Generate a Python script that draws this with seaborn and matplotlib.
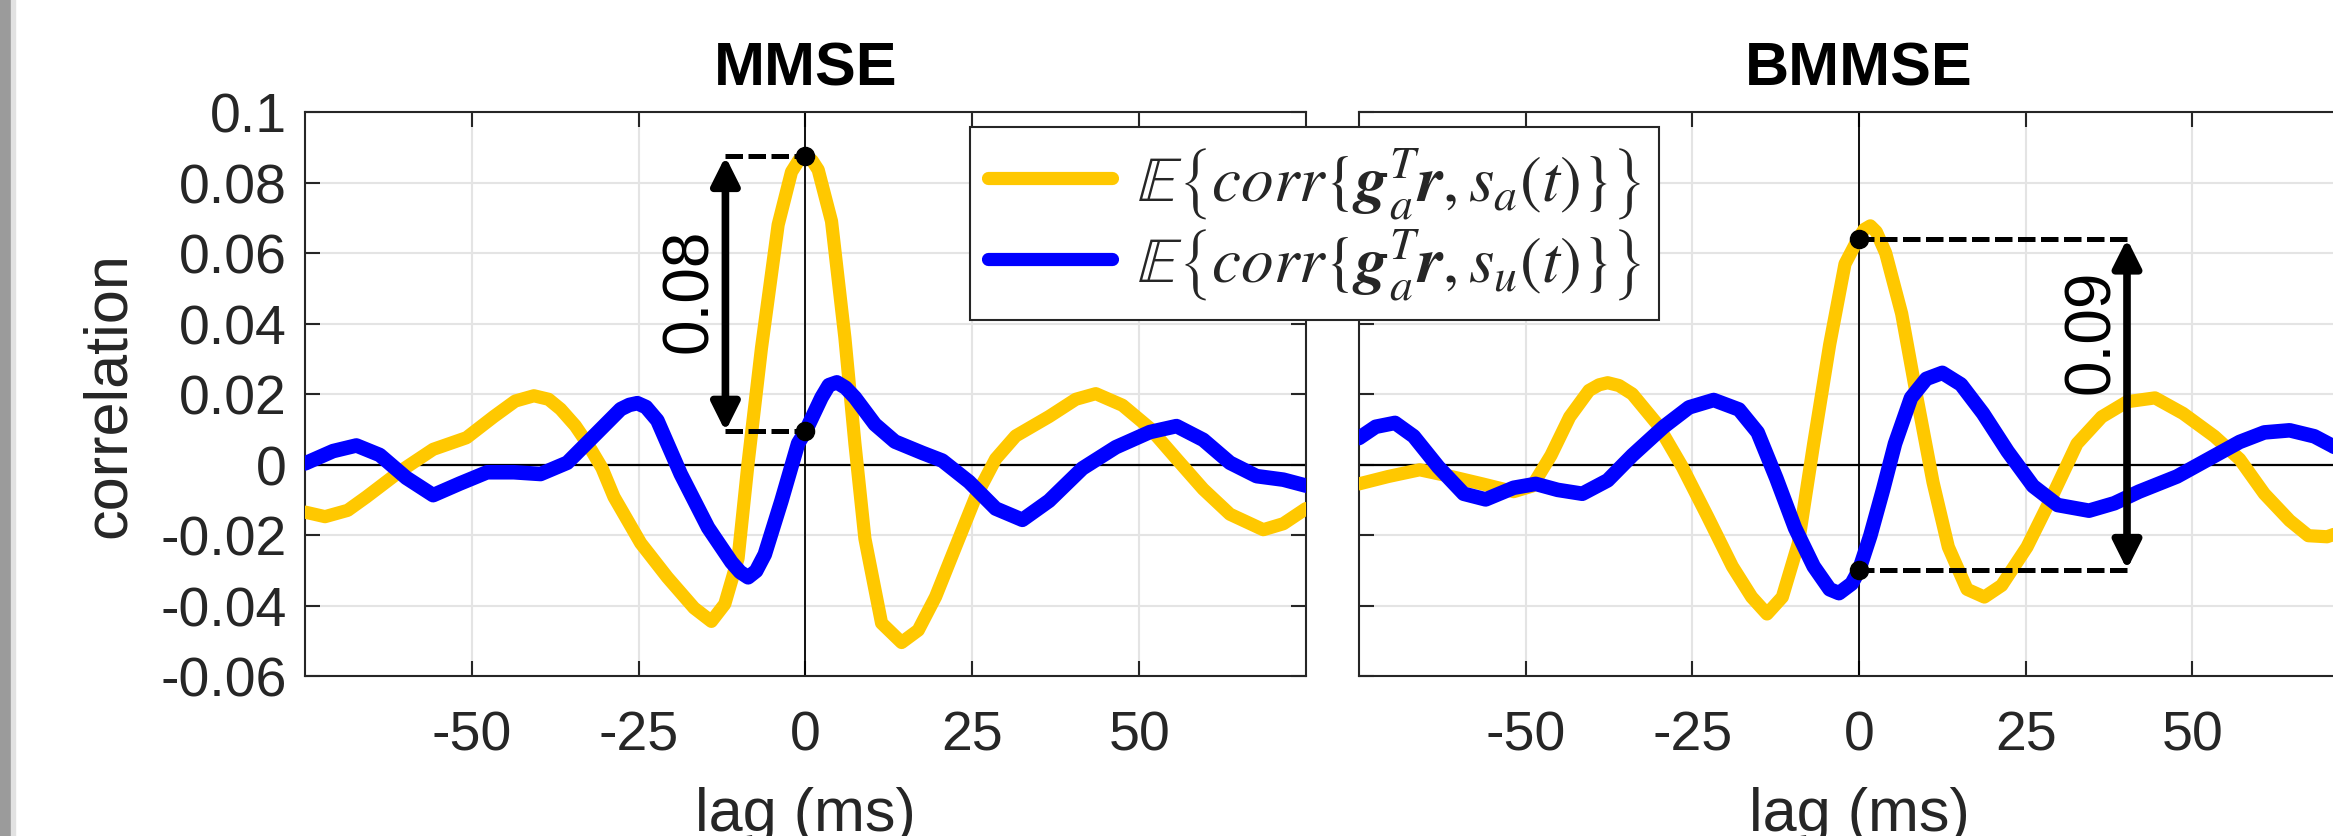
import numpy as np
import pandas as pd
import seaborn as sns
import matplotlib.pyplot as plt
from matplotlib.patches import Rectangle

# ---------------- data ----------------
# MMSE panel: E{corr{g_a^T r, s_a(t)}}  (yellow)
lag_a_mmse = [-75, -72, -68.6, -65.8, -60.8, -55.8, -50.8, -46.7, -43.5, -40.7, -38.5,
              -36.7, -34.5, -32.7, -30.5, -28.7, -24.7, -20.7, -16.7, -14.1, -12.1,
              -10.1, -8.6, -6.6, -4.1, -2.1, -1.0, 0, 1.0, 1.9, 3.9, 5.9, 7.4, 8.9, 11.4,
              14.4, 16.9, 19.5, 22.5, 25.5, 28.5, 31.5, 36.5, 40.5, 43.5, 47.5, 51.6,
              55.6, 59.6, 63.6, 68.6, 71.6, 75]
corr_a_mmse = [-0.0135, -0.0148, -0.013, -0.0092, -0.002, 0.0043, 0.0076, 0.0136, 0.018,
               0.0195, 0.0185, 0.0157, 0.011, 0.006, -0.001, -0.0092, -0.0223, -0.032,
               -0.0407, -0.0445, -0.0396, -0.0266, 0.0005, 0.033, 0.068, 0.083, 0.0863,
               0.0874, 0.0862, 0.0836, 0.069, 0.036, 0.006, -0.021, -0.045, -0.0505,
               -0.047, -0.0375, -0.0233, -0.0092, 0.0016, 0.0081, 0.0136, 0.0185, 0.0201,
               0.0168, 0.0103, 0.0016, -0.007, -0.0141, -0.0185, -0.0168, -0.0125]

# MMSE panel: E{corr{g_a^T r, s_u(t)}}  (blue)
lag_u_mmse = [-75, -70.8, -67.3, -63.8, -59.8, -55.8, -51.8, -47.7, -43.7, -39.7, -35.7,
              -31.7, -27.7, -26.4, -25.2, -23.9, -22.2, -18.7, -14.6, -11.1, -9.8, -8.6,
              -7.4, -6.1, -3.6, -1.1, 0, 2.4, 3.5, 4.7, 6.0, 7.4, 10.4, 13.4, 17.5, 20.5,
              24.5, 28.5, 32.5, 36.5, 41.5, 46.5, 51.6, 55.6, 59.6, 63.6, 67.6, 71.6, 75]
corr_u_mmse = [0.0003, 0.0038, 0.0054, 0.0027, -0.0038, -0.0087, -0.0054, -0.0022,
               -0.0022, -0.0027, 0.0005, 0.0081, 0.0157, 0.0169, 0.0174, 0.0163, 0.0125,
               -0.0027, -0.0179, -0.0277, -0.0305, -0.032, -0.0302, -0.0255, -0.0103,
               0.006, 0.0094, 0.019, 0.0225, 0.0233, 0.0218, 0.019, 0.0114, 0.0065,
               0.0033, 0.0011, -0.0049, -0.0125, -0.0157, -0.0103, -0.0011, 0.0049,
               0.0092, 0.0109, 0.007, 0.0005, -0.0033, -0.0043, -0.006]

# BMMSE panel (yellow)
lag_a_bmmse = [-75, -70.6, -65.9, -61.2, -56.5, -51.8, -49.0, -46.2, -43.4, -40.5, -39.0,
               -37.7, -36.0, -34.0, -30.2, -26.5, -22.7, -19.0, -16.1, -13.8, -11.5, -9.1,
               -6.8, -4.4, -2.1, 0, 0.8, 1.7, 2.6, 4.0, 6.4, 8.7, 11.1, 13.4, 16.2, 18.8,
               21.4, 25.2, 28.9, 32.7, 36.4, 40.2, 44.4, 48.6, 53.3, 57.1, 60.8, 64.6,
               67.4, 70.2, 72.5, 75]
corr_a_bmmse = [-0.0055, -0.0034, -0.0015, -0.0034, -0.0055, -0.0077, -0.0061, 0.0026,
                0.0135, 0.021, 0.0226, 0.0232, 0.0224, 0.020, 0.0113, -0.0007, -0.0148,
                -0.0289, -0.0376, -0.0424, -0.0376, -0.0224, 0.0059, 0.034, 0.0569,
                0.0645, 0.0667, 0.0677, 0.066, 0.060, 0.0428, 0.0189, -0.005, -0.0234,
                -0.0354, -0.0376, -0.0343, -0.0234, -0.0093, 0.0059, 0.0135, 0.0178,
                0.0189, 0.0145, 0.008, 0.0015, -0.0083, -0.0159, -0.0202, -0.0205,
                -0.019, -0.017]

# BMMSE panel (blue)
lag_u_bmmse = [-75, -72.5, -69.6, -66.8, -63.1, -59.3, -56.0, -51.8, -48.5, -45.2, -41.5,
               -37.7, -34.0, -29.3, -25.5, -21.8, -18.0, -15.2, -12.4, -9.6, -6.8, -4.4,
               -3.0, -1.1, 0, 1.7, 3.6, 5.4, 7.8, 10.1, 12.5, 15.3, 18.6, 22.3, 26.1,
               29.8, 34.5, 38.3, 42.0, 47.7, 52.4, 57.1, 60.8, 64.6, 68.3, 71.0, 73.0, 75]
corr_u_bmmse = [0.0075, 0.0107, 0.0118, 0.008, -0.0007, -0.0083, -0.0099, -0.0066,
                -0.0055, -0.0072, -0.0083, -0.0045, 0.0026, 0.0107, 0.0162, 0.0183,
                0.0156, 0.0091, -0.0039, -0.018, -0.0289, -0.0354, -0.0365, -0.0338,
                -0.030, -0.0202, -0.0072, 0.0059, 0.0189, 0.0243, 0.026, 0.0227, 0.0145,
                0.0037, -0.0061, -0.0115, -0.0131, -0.011, -0.0077, -0.0034, 0.0015,
                0.0064, 0.0091, 0.0097, 0.008, 0.0053, 0.003, 0.0005]

titles = ['MMSE', 'BMMSE']
x_ticks = [-50, -25, 0, 25, 50]
y_ticks = [-0.06, -0.04, -0.02, 0, 0.02, 0.04, 0.06, 0.08, 0.1]
y_tick_labels = ['-0.06', '-0.04', '-0.02', '0', '0.02', '0.04', '0.06', '0.08', '0.1']
legend_labels = [r'$\mathbb{E}\left\{corr\{\mathbfit{g}_a^T\mathbfit{r},s_a(t)\}\right\}$',
                 r'$\mathbb{E}\left\{corr\{\mathbfit{g}_a^T\mathbfit{r},s_u(t)\}\right\}$']

# difference markers: (top value, bottom value, arrow lag, label, label lag, label corr)
marks_mmse = (0.0874, 0.0094, -12.0, '0.08', -17.3, 0.0495)
marks_bmmse = (0.064, -0.0298, 40.2, '0.09', 35.0, 0.038)

YELLOW = '#FFC800'
BLUE = '#0000FF'
INK = '#262626'

# ---------------- figure ----------------
sns.set_theme(style='white')
plt.rcParams['font.family'] = ['Liberation Sans', 'DejaVu Sans']
plt.rcParams['mathtext.fontset'] = 'stix'

W, H = 2333, 837
fig = plt.figure(figsize=(W / 100, H / 100), dpi=100)
fig.patch.set_facecolor('white')

# grey window border on the far left
fig.patches.append(Rectangle((0, 0), 11 / W, 1, transform=fig.transFigure,
                             color='#9b9b9b', zorder=0))
fig.patches.append(Rectangle((11 / W, 0), 4 / W, 1, transform=fig.transFigure,
                             color='#e2e2e2', zorder=0))

ax1 = fig.add_axes([305 / W, 160 / H, 1001 / W, 564 / H])
ax2 = fig.add_axes([1359 / W, 160 / H, 1000 / W, 564 / H])

panels = [
    (ax1, lag_a_mmse, corr_a_mmse, lag_u_mmse, corr_u_mmse, marks_mmse),
    (ax2, lag_a_bmmse, corr_a_bmmse, lag_u_bmmse, corr_u_bmmse, marks_bmmse),
]

for i, (ax, la, ca, lu, cu, mk) in enumerate(panels):
    df_a = pd.DataFrame({'lag': la, 'corr': ca})
    df_u = pd.DataFrame({'lag': lu, 'corr': cu})
    ax.axhline(0, color='black', lw=1.6, zorder=2)
    ax.axvline(0, color='black', lw=1.3, zorder=2)
    sns.lineplot(data=df_a, x='lag', y='corr', ax=ax, color=YELLOW, lw=9.5,
                 estimator=None, label=legend_labels[0], legend=False, zorder=3)
    sns.lineplot(data=df_u, x='lag', y='corr', ax=ax, color=BLUE, lw=10.5,
                 estimator=None, label=legend_labels[1], legend=False, zorder=4)

    top, bot, ax_lag, txt, tx, ty = mk
    ax.plot([ax_lag, 0], [top, top], color='black', lw=3.6, ls=(0, (3.5, 1.1)), zorder=6)
    ax.plot([ax_lag, 0], [bot, bot], color='black', lw=3.6, ls=(0, (3.5, 1.1)), zorder=6)
    ax.scatter([0, 0], [top, bot], s=170, color='black', zorder=7)
    ax.annotate('', xy=(ax_lag, top), xytext=(ax_lag, bot),
                arrowprops=dict(arrowstyle='<|-|>', color='black', lw=5.5,
                                mutation_scale=42, shrinkA=0, shrinkB=0), zorder=6)
    ax.text(tx, ty, txt, rotation=90, ha='center', va='center', fontsize=46,
            color='black', zorder=6)

    ax.set_xlim(-75, 75)
    ax.set_ylim(-0.06, 0.1)
    ax.set_xticks(x_ticks)
    ax.set_xticklabels([str(t) for t in x_ticks])
    ax.set_yticks(y_ticks)
    ax.set_yticklabels(y_tick_labels)
    ax.grid(True, color='#e4e4e4', lw=1.5)
    ax.set_axisbelow(True)
    ax.tick_params(direction='in', length=11, width=1.5, top=True, right=True,
                   bottom=True, left=True, colors=INK, labelsize=40)
    ax.tick_params(axis='x', pad=24)
    ax.tick_params(axis='y', pad=13)
    for sp in ax.spines.values():
        sp.set_visible(True)
        sp.set_color(INK)
        sp.set_linewidth(1.5)
    ax.set_title(titles[i], fontsize=44, fontweight='bold', color='black', pad=20)
    ax.set_xlabel('lag (ms)', fontsize=44, color=INK, labelpad=18)
    if i == 0:
        ax.set_ylabel('correlation', fontsize=44, color=INK, labelpad=16)
    else:
        ax.set_ylabel('')
        ax.tick_params(axis='y', labelleft=False)

handles, labels = ax1.get_legend_handles_labels()
handles = [h for h, l in zip(handles, labels) if l in legend_labels]
leg = fig.legend(handles, legend_labels, loc='upper left',
                 bbox_to_anchor=(970 / W, 1 - 128 / H), borderaxespad=0,
                 frameon=True, fancybox=False, framealpha=1, edgecolor=INK,
                 fontsize=47, handlelength=1.9, handletextpad=0.38,
                 labelspacing=0.08, borderpad=0.28)
leg.get_frame().set_linewidth(1.5)
for line in leg.get_lines():
    line.set_linewidth(9.5)

fig.savefig('out.png', dpi=100)
